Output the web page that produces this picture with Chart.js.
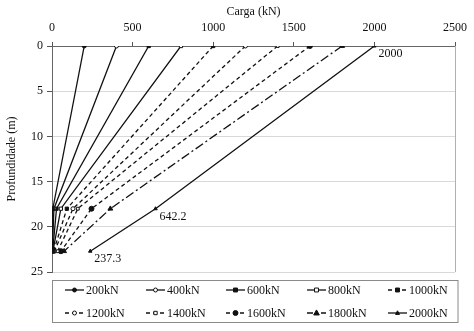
<!DOCTYPE html>
<html><head><meta charset="utf-8">
<script src="https://cdn.jsdelivr.net/npm/chart.js@4/dist/chart.umd.min.js"></script>
<style>html,body{margin:0;padding:0;background:#fff}#wrap{width:474px;height:331px}</style>
</head><body><div id="wrap"><canvas id="c" width="474" height="331"></canvas></div>
<script>
const depths = [0, 18, 22.7];
const seriesNames = ['200kN','400kN','600kN','800kN','1000kN','1200kN','1400kN','1600kN','1800kN','2000kN'];
const load200 = [200, 5, 0];
const load400 = [400, 12, 2];
const load600 = [600, 28, 4];
const load800 = [800, 55, 6];
const load1000 = [1000, 92, 10];
const load1200 = [1200, 130, 15];
const load1400 = [1400, 160, 35];
const load1600 = [1600, 245, 55];
const load1800 = [1800, 362, 75];
const load2000 = [2000, 642.2, 237.3];
const xTicks = [0, 500, 1000, 1500, 2000, 2500];
const yTicks = [0, 5, 10, 15, 20, 25];
const labelled = [{s:9, i:0, text:'2000'},{s:9, i:1, text:'642.2'},{s:9, i:2, text:'237.3'}];

const allLoads = [load200, load400, load600, load800, load1000, load1200, load1400, load1600, load1800, load2000];
const styles = [
  {dash:[], m:'circle', fill:true, r:2},
  {dash:[], m:'circle', fill:false, r:2},
  {dash:[], m:'rect', fill:true, r:2.3},
  {dash:[], m:'rect', fill:false, r:2.3},
  {dash:[4,3], m:'rect', fill:true, r:2.3},
  {dash:[4,3], m:'circle', fill:false, r:2},
  {dash:[4,3], m:'rect', fill:false, r:2},
  {dash:[4,3], m:'circle', fill:true, r:2.5},
  {dash:[9,3,2,3], m:'triangle', fill:true, r:2.8},
  {dash:[], m:'triangle', fill:true, r:2}
];
const FONT = 'Liberation Serif, serif';

const datasets = allLoads.map((arr, k) => ({
  label: seriesNames[k],
  data: arr.map((v, i) => ({x: v, y: depths[i]})),
  borderColor: '#111',
  backgroundColor: styles[k].fill ? '#111' : '#fff',
  pointBorderColor: '#111',
  pointBackgroundColor: styles[k].fill ? '#111' : '#fff',
  pointStyle: styles[k].m,
  pointRadius: styles[k].r,
  pointBorderWidth: 1,
  borderWidth: 1.3,
  borderDash: styles[k].dash,
  showLine: true,
  tension: 0
}));

function drawMarker(ctx, st, x, y) {
  ctx.save();
  ctx.setLineDash([]);
  ctx.fillStyle = st.fill ? '#111' : '#fff';
  ctx.strokeStyle = '#111';
  ctx.lineWidth = 1;
  ctx.beginPath();
  const r = st.r;
  if (st.m === 'circle') ctx.arc(x, y, r, 0, Math.PI*2);
  else if (st.m === 'rect') ctx.rect(x - r*0.85, y - r*0.85, r*1.7, r*1.7);
  else { ctx.moveTo(x, y - r*1.1); ctx.lineTo(x + r, y + r*0.7); ctx.lineTo(x - r, y + r*0.7); ctx.closePath(); }
  ctx.fill(); ctx.stroke();
  ctx.restore();
}

const extras = {
  id: 'extras',
  afterDatasetsDraw(chart) {
    const ctx = chart.ctx, ca = chart.chartArea;
    const xs = chart.scales.x, ys = chart.scales.y;
    ctx.save();
    ctx.strokeStyle = '#b0b0b0'; ctx.lineWidth = 1;
    ctx.beginPath(); ctx.moveTo(Math.round(ca.right)+0.5, ca.top); ctx.lineTo(Math.round(ca.right)+0.5, ca.bottom); ctx.stroke();
    ctx.fillStyle = '#111';
    ctx.font = '12px ' + FONT;
    ctx.textBaseline = 'middle'; ctx.textAlign = 'left';
    labelled.forEach(l => {
      const px = xs.getPixelForValue(allLoads[l.s][l.i]);
      const py = ys.getPixelForValue(depths[l.i]);
      ctx.fillText(l.text, px + 4, py + 8);
    });
    const L = 52, T = 280.5, R = 457.5, B = 322.5;
    ctx.strokeStyle = '#8a8a8a'; ctx.lineWidth = 1;
    ctx.strokeRect(L + 0.5, T, R - L, B - T);
    const cols = [65, 146, 226, 307, 388];
    const rows = [290, 313];
    ctx.font = '12px ' + FONT;
    ctx.textBaseline = 'middle';
    seriesNames.forEach((name, k) => {
      const x = cols[k % 5], y = rows[Math.floor(k / 5)];
      const st = styles[k];
      ctx.save();
      ctx.strokeStyle = '#111'; ctx.lineWidth = 1.3;
      ctx.setLineDash(st.dash.length ? [4,3] : []);
      if (k === 8) ctx.setLineDash([6,3,2,3]);
      ctx.beginPath(); ctx.moveTo(x, y); ctx.lineTo(x + 19, y); ctx.stroke();
      ctx.restore();
      drawMarker(ctx, st, x + 9.5, y);
      ctx.fillStyle = '#111';
      ctx.fillText(name, x + 21, y + 0.5);
    });
    ctx.restore();
  }
};

new Chart(document.getElementById('c'), {
  type: 'scatter',
  data: { datasets },
  options: {
    responsive: false,
    animation: false,
    devicePixelRatio: 1,
    layout: { padding: { top: 0, left: 0, right: 15, bottom: 59 } },
    plugins: { legend: { display: false }, tooltip: { enabled: false } },
    scales: {
      x: {
        type: 'linear', position: 'top', min: 0, max: 2500,
        afterBuildTicks: s => { s.ticks = xTicks.map(v => ({value: v})); },
        afterFit: s => { s.height = 46; },
        title: { display: true, text: 'Carga (kN)', color: '#111', font: { family: FONT, size: 12 }, padding: { top: 5, bottom: 0 } },
        ticks: { color: '#111', font: { family: FONT, size: 12 }, padding: 7, maxRotation: 0, callback: v => String(v) },
        grid: { drawOnChartArea: false, drawTicks: true, tickLength: 4, color: '#555' },
        border: { display: true, color: '#666', width: 1 }
      },
      y: {
        type: 'linear', reverse: true, min: 0, max: 25,
        afterBuildTicks: s => { s.ticks = yTicks.map(v => ({value: v})); },
        afterFit: s => { s.width = 52; },
        title: { display: true, text: 'Profundidade (m)', color: '#111', font: { family: FONT, size: 12 }, padding: { top: 5, bottom: 0 } },
        ticks: { color: '#111', font: { family: FONT, size: 12 }, padding: 4, callback: v => String(v) },
        grid: { color: '#d9d9d9', tickColor: '#555', tickLength: 5, lineWidth: 1 },
        border: { display: true, color: '#666', width: 1 }
      }
    }
  },
  plugins: [extras]
});
</script></body></html>
